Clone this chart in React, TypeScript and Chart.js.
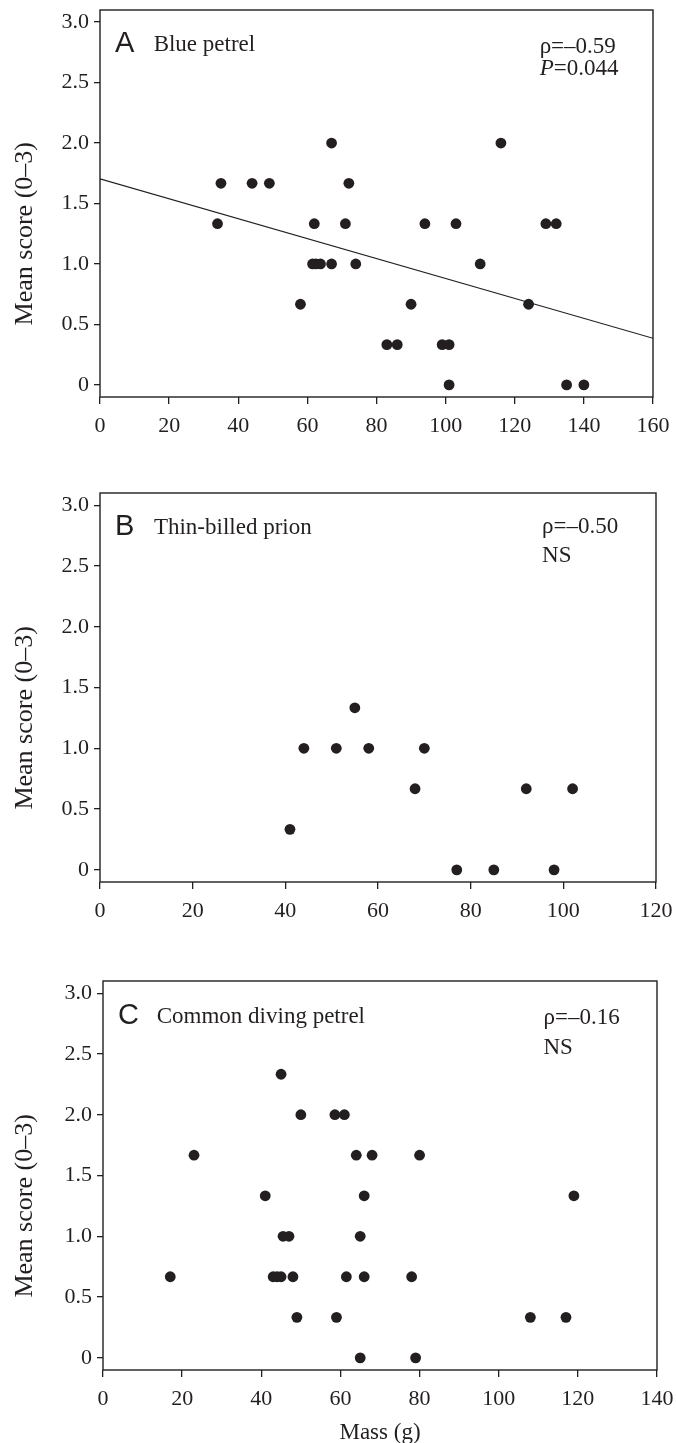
import React, { useEffect, useRef } from "react";
import { Chart, registerables } from "chart.js";

Chart.register(...registerables);

// ---------- data ----------
const massA = [34, 35, 44, 49, 67, 62, 71, 72, 61.5, 62.5, 63.8, 67, 74, 58, 83, 86, 90, 94, 103, 99, 101, 101, 110, 116, 124, 129, 132, 135, 140];
const scoreA = [1.333, 1.667, 1.667, 1.667, 2, 1.333, 1.333, 1.667, 1, 1, 1, 1, 1, 0.667, 0.333, 0.333, 0.667, 1.333, 1.333, 0.333, 0.333, 0, 1, 2, 0.667, 1.333, 1.333, 0, 0];
const fitMassA = [0, 160];
const fitScoreA = [1.704, 0.386];

const massB = [41, 44, 51, 55, 58, 68, 70, 77, 85, 92, 98, 102];
const scoreB = [0.333, 1, 1, 1.333, 1, 0.667, 1, 0, 0, 0.667, 0, 0.667];

const massC = [17, 23, 41, 45, 50, 58.6, 61, 64, 68, 80, 66, 119, 45.5, 47, 65, 43, 44, 45, 48, 61.5, 66, 78, 49, 59, 108, 117, 65, 79];
const scoreC = [0.667, 1.667, 1.333, 2.333, 2, 2, 2, 1.667, 1.667, 1.667, 1.333, 1.333, 1, 1, 1, 0.667, 0.667, 0.667, 0.667, 0.667, 0.667, 0.667, 0.333, 0.333, 0.333, 0.333, 0, 0];

const yTicks = [0, 0.5, 1, 1.5, 2, 2.5, 3];
const xTicksA = [0, 20, 40, 60, 80, 100, 120, 140, 160];
const xTicksB = [0, 20, 40, 60, 80, 100, 120];
const xTicksC = [0, 20, 40, 60, 80, 100, 120, 140];

const yTitle = "Mean score (0–3)";
const xTitle = "Mass (g)";

// ---------- style ----------
const SERIF = '"Liberation Serif", "Times New Roman", serif';
const SANS = '"Liberation Sans", Arial, sans-serif';
const INK = "#231f20";

const framePlugin = {
  id: "frame",
  afterDraw(chart: any) {
    const { ctx, chartArea: a } = chart;
    ctx.save();
    ctx.strokeStyle = INK;
    ctx.lineWidth = 1.4;
    ctx.strokeRect(a.left, a.top, a.right - a.left, a.bottom - a.top);
    ctx.restore();
  },
};

const textPlugin = {
  id: "panelText",
  afterDraw(chart: any, _args: any, opts: any) {
    const { ctx, chartArea: a } = chart;
    const W = a.right - a.left;
    ctx.save();
    ctx.fillStyle = INK;
    ctx.textBaseline = "middle";
    ctx.textAlign = "left";
    // panel letter
    ctx.font = `29px ${SANS}`;
    ctx.fillText(opts.letter, a.left + 0.027 * W, a.top + opts.row1);
    // species name
    ctx.font = `23px ${SERIF}`;
    ctx.fillText(opts.name, a.left + 0.097 * W, a.top + opts.row1 + 1);
    // statistics
    const sx = a.left + 0.795 * W;
    ctx.fillText(opts.rho, sx, a.top + opts.rowRho);
    if (opts.italic) {
      ctx.font = `italic 23px ${SERIF}`;
      ctx.fillText(opts.italic, sx, a.top + opts.row2);
      const w = ctx.measureText(opts.italic).width;
      ctx.font = `23px ${SERIF}`;
      ctx.fillText(opts.second, sx + w, a.top + opts.row2);
    } else {
      ctx.fillText(opts.second, sx, a.top + opts.row2);
    }
    // y title
    const yScale = chart.scales.y;
    const yc = yScale.getPixelForValue(opts.yTitleAt);
    ctx.save();
    ctx.translate(25, yc);
    ctx.rotate(-Math.PI / 2);
    ctx.textAlign = "center";
    ctx.font = `26px ${SERIF}`;
    ctx.fillText(yTitle, 0, 0);
    ctx.restore();
    // x title
    if (opts.showXTitle) {
      ctx.textAlign = "center";
      ctx.font = `23px ${SERIF}`;
      ctx.fillText(xTitle, (a.left + a.right) / 2, a.bottom + 63);
    }
    ctx.restore();
  },
};

type PanelProps = {
  top: number;
  height: number;
  left: number;
  right: number;
  plotTop: number;
  plotBottom: number;
  mass: number[];
  score: number[];
  xTicks: number[];
  fitX?: number[];
  fitY?: number[];
  texts: any;
};

function Panel(p: PanelProps) {
  const ref = useRef<HTMLCanvasElement>(null);
  useEffect(() => {
    const canvas = ref.current!;
    const datasets: any[] = [
      {
        type: "scatter",
        data: p.mass.map((m, i) => ({ x: m, y: p.score[i] })),
        pointRadius: 5.4,
        pointHoverRadius: 5.4,
        backgroundColor: INK,
        borderWidth: 0,
      },
    ];
    if (p.fitX && p.fitY) {
      datasets.push({
        type: "line",
        data: p.fitX.map((x, i) => ({ x, y: p.fitY![i] })),
        borderColor: INK,
        borderWidth: 1.1,
        pointRadius: 0,
        fill: false,
      });
    }
    const xMax = p.xTicks[p.xTicks.length - 1];
    const chart = new Chart(canvas, {
      type: "scatter",
      data: { datasets },
      options: {
        animation: false,
        responsive: false,
        events: [],
        layout: { padding: { left: 0, top: p.plotTop, right: 676 - p.right, bottom: 0 } },
        plugins: {
          legend: { display: false },
          tooltip: { enabled: false },
          panelText: p.texts,
        } as any,
        scales: {
          x: {
            type: "linear",
            min: 0,
            max: xMax,
            afterBuildTicks: (s: any) => {
              s.ticks = p.xTicks.map((v) => ({ value: v }));
            },
            afterFit: (s: any) => {
              s.height = p.height - p.plotBottom;
              s.paddingLeft = 0;
              s.paddingRight = 0;
            },
            grid: { drawOnChartArea: false, drawTicks: true, tickLength: 7, color: INK, lineWidth: 1.3 },
            border: { display: false },
            ticks: {
              font: { family: SERIF, size: 22 },
              color: INK,
              padding: 9,
              maxRotation: 0,
              autoSkip: false,
              callback: (v: any) => String(v),
            },
          },
          y: {
            type: "linear",
            min: -0.1,
            max: 3.1,
            afterBuildTicks: (s: any) => {
              s.ticks = yTicks.map((v) => ({ value: v }));
            },
            afterFit: (s: any) => {
              s.width = p.left;
              s.paddingTop = 0;
              s.paddingBottom = 0;
            },
            grid: { drawOnChartArea: false, drawTicks: true, tickLength: 6, color: INK, lineWidth: 1.3 },
            border: { display: false },
            ticks: {
              font: { family: SERIF, size: 22 },
              color: INK,
              padding: 5,
              autoSkip: false,
              callback: (v: any) => (v === 0 ? "0" : Number(v).toFixed(1)),
            },
          },
        },
      } as any,
      plugins: [framePlugin, textPlugin],
    });
    return () => chart.destroy();
  }, []);
  return (
    <canvas
      ref={ref}
      width={676}
      height={p.height}
      style={{ position: "absolute", left: 0, top: p.top, width: 676, height: p.height, display: "block" }}
    />
  );
}

export default function App() {
  return (
    <div style={{ position: "absolute", left: 0, top: 0, width: 676, height: 1443, background: "#fff" }}>
      <Panel
        top={0}
        height={460}
        left={100}
        right={653}
        plotTop={10}
        plotBottom={397}
        mass={massA}
        score={scoreA}
        xTicks={xTicksA}
        fitX={fitMassA}
        fitY={fitScoreA}
        texts={{ letter: "A", name: "Blue petrel", rho: "ρ=–0.59", italic: "P", second: "=0.044", row1: 34, rowRho: 37, row2: 59, yTitleAt: 1.25 }}
      />
      <Panel
        top={480}
        height={460}
        left={100}
        right={656}
        plotTop={13}
        plotBottom={402}
        mass={massB}
        score={scoreB}
        xTicks={xTicksB}
        texts={{ letter: "B", name: "Thin-billed prion", rho: "ρ=–0.50", second: "NS", row1: 34, rowRho: 34, row2: 63, yTitleAt: 1.25 }}
      />
      <Panel
        top={960}
        height={483}
        left={103}
        right={657}
        plotTop={21}
        plotBottom={410}
        mass={massC}
        score={scoreC}
        xTicks={xTicksC}
        texts={{ letter: "C", name: "Common diving petrel", rho: "ρ=–0.16", second: "NS", row1: 35, rowRho: 37, row2: 67, yTitleAt: 1.25, showXTitle: true }}
      />
    </div>
  );
}
